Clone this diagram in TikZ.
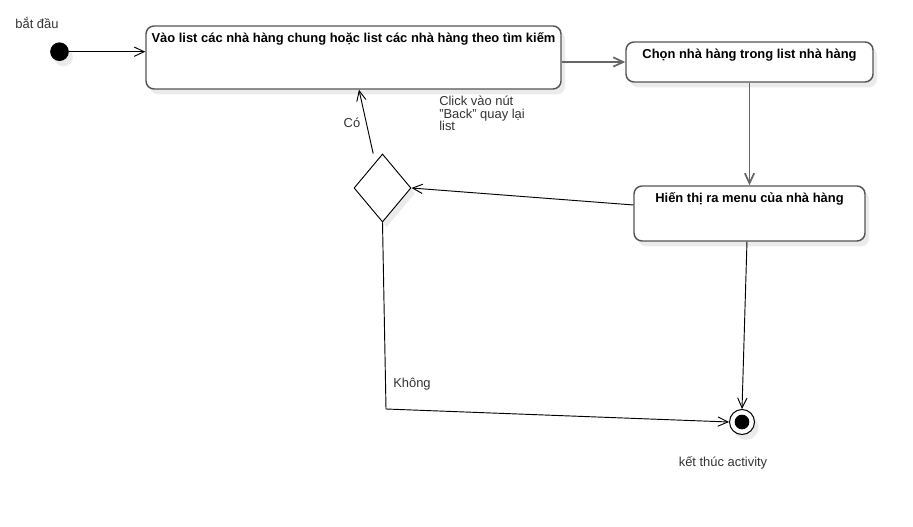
\documentclass[tikz,border=0pt]{standalone}
\usepackage{fontspec}
\setmainfont{Liberation Sans}
\usetikzlibrary{arrows.meta,shapes.geometric,calc}
\definecolor{boxline}{HTML}{555555}
\definecolor{conn}{HTML}{666666}
\definecolor{txt}{HTML}{333333}
\begin{document}
\begin{tikzpicture}[x=0.75pt,y=-0.75pt,
  font=\fontsize{9.7}{9.4}\selectfont,
  shade/.style={preaction={fill=black!8, transform canvas={xshift=3pt,yshift=-4pt}}},
  act/.style={draw=boxline, line width=1.1pt, rounded corners=6pt, fill=white, inner sep=0, shade},
  acttext/.style={anchor=base, yshift=-12.75pt, font=\fontsize{9.7}{10}\selectfont\bfseries, inner sep=0},
  lbl/.style={text=txt, inner sep=0},
  tip/.style={-{Straight Barb[length=7.5pt,width=7pt]}},
  thinarrow/.style={tip, draw=black, line width=0.7pt},
  thickarrow/.style={tip, draw=conn, line width=1.3pt}
]
\useasboundingbox (0,0) rectangle (913,527);

% activities
\node[act, minimum width=311.25pt, minimum height=47.25pt,
  label={[acttext]north:Vào list các nhà hàng chung hoặc list các nhà hàng theo tìm kiếm}] (box1) at (353.5,57.5) {};
\node[act, minimum width=185.25pt, minimum height=30pt,
  label={[acttext]north:Chọn nhà hàng trong list nhà hàng}] (box2) at (749.5,62) {};
\node[act, minimum width=173.25pt, minimum height=41.25pt,
  label={[acttext]north:Hiến thị ra menu của nhà hàng}] (box3) at (749.5,213.5) {};

% start / end / decision
\node[circle, fill=black, minimum size=14pt, inner sep=0, shade] (start) at (59.5,51.7) {};
\node[diamond, draw=black, line width=0.7pt, fill=white, minimum width=42.75pt, minimum height=51pt, inner sep=0, shade] (dia) at (382.5,188) {};
\node[circle, draw=black, line width=0.75pt, fill=white, minimum size=18.75pt, inner sep=0, shade] (end) at (742,422) {};
\node[circle, fill=black, minimum size=11pt, inner sep=0] (endin) at (end) {};

\coordinate (corner) at (386,409);

% connectors
\draw[thinarrow] (start) -- (start -| box1.west);
\draw[thickarrow] (box2.west -| box1.east) -- (box2.west);
\draw[thickarrow] (box2.south) -- (box3.north);
\draw[thinarrow] ([yshift=6.4pt]box3.west) -- (dia.east);
\draw[thinarrow] ([xshift=-7pt]dia.north) -- ([xshift=4.1pt]box1.south);
\draw[thinarrow] (dia.south) -- (corner) -- (end.west);
\draw[thinarrow] ([xshift=-1.9pt]box3.south) -- (end.north);

% labels
\node[lbl] (lstart) at (37,23) {bắt đầu};
\node[lbl] (lco) at (352,123) {Có};
\node[lbl, anchor=north west, align=left] (lclick) at (439,96) {Click vào nút\\"Back" quay lại\\list};
\node[lbl, anchor=west] (lno) at (393,384) {Không};
\node[lbl] (lend) at (723,463) {kết thúc activity};
\end{tikzpicture}
\end{document}
